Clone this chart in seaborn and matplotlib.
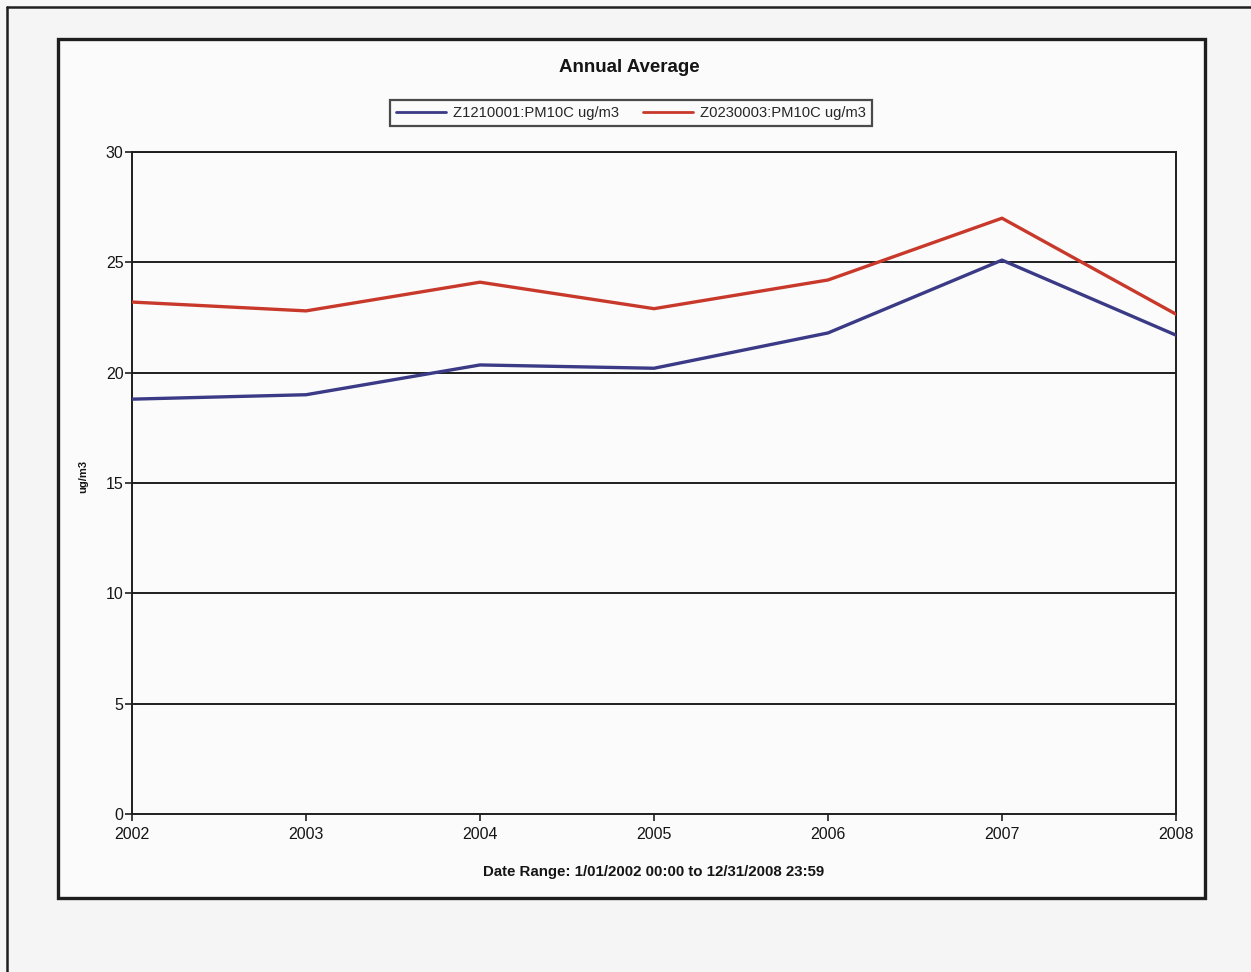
import matplotlib
matplotlib.use("Agg")
import matplotlib.pyplot as plt
import seaborn as sns
import pandas as pd
from matplotlib.patches import Rectangle
from matplotlib.lines import Line2D

years = [2002, 2003, 2004, 2005, 2006, 2007, 2008]
site_a_name = "Z1210001:PM10C ug/m3"
site_b_name = "Z0230003:PM10C ug/m3"
site_a = [18.8, 19.0, 20.35, 20.2, 21.8, 25.1, 21.7]
site_b = [23.2, 22.8, 24.1, 22.9, 24.2, 27.0, 22.65]
y_ticks = [0, 5, 10, 15, 20, 25, 30]

df = pd.DataFrame({
    "year": years * 2,
    "value": site_a + site_b,
    "series": [site_a_name] * len(years) + [site_b_name] * len(years),
})

sns.set_theme(style="white")
plt.rcParams["font.family"] = ["Liberation Sans", "DejaVu Sans"]

W, H = 1251, 972
fig = plt.figure(figsize=(W / 100, H / 100), dpi=100, facecolor="#f5f5f5")

# page border (top and left edges of the outer sheet)
fig.add_artist(Line2D([7 / W, 7 / W], [0, 1 - 7 / H], transform=fig.transFigure,
                      color="#1e1e1e", linewidth=1.8, zorder=-9))
fig.add_artist(Line2D([7 / W, 1], [1 - 7 / H, 1 - 7 / H], transform=fig.transFigure,
                      color="#1e1e1e", linewidth=1.8, zorder=-9))

# chart frame
frame = Rectangle((58 / W, 1 - 898 / H), (1205 - 58) / W, (898 - 39) / H,
                  transform=fig.transFigure, facecolor="#fbfbfb", edgecolor="#1e1e1e",
                  linewidth=2.4, zorder=-10)
fig.patches.append(frame)

ax = fig.add_axes([132 / W, 1 - 814 / H, (1176 - 132) / W, (814 - 152) / H])
ax.set_facecolor("none")
ax.set_zorder(5)

palette = {site_a_name: "#3a3a86", site_b_name: "#c8392b"}
sns.lineplot(data=df, x="year", y="value", hue="series", palette=palette,
             linewidth=2.4, ax=ax, legend=False, zorder=3)

ax.set_xlim(2002, 2008)
ax.set_ylim(0, 30)
ax.set_yticks(y_ticks)
ax.set_xticks(years)
ax.set_xticklabels([str(y) for y in years])
for v in y_ticks[1:]:
    ax.axhline(v, color="#1e1e1e", linewidth=1.4, zorder=1)

for side in ["left", "right", "bottom", "top"]:
    ax.spines[side].set_color("#1e1e1e")
    ax.spines[side].set_linewidth(1.4)
ax.tick_params(axis="both", which="major", direction="out", length=5, width=1.2,
               color="#1e1e1e", labelsize=11.5, labelcolor="#151515")
ax.tick_params(axis="y", left=True, pad=1)
ax.tick_params(axis="x", bottom=True, pad=4)

ax.set_xlabel("Date Range: 1/01/2002 00:00 to 12/31/2008 23:59", fontsize=10.8,
              fontweight="bold", labelpad=17, color="#151515")
ax.set_ylabel("ug/m3", fontsize=8, fontweight="bold", color="#151515")
ax.yaxis.set_label_coords(-44 / (1176 - 132), (814 - 476) / (814 - 152))

fig.text(629 / W, 1 - 68 / H, "Annual Average", ha="center", va="center",
         fontsize=13.5, fontweight="bold", color="#151515")

handles = [Line2D([], [], color=palette[site_a_name], linewidth=2),
           Line2D([], [], color=palette[site_b_name], linewidth=2)]
leg = fig.legend(handles, [site_a_name, site_b_name], loc="center",
                 bbox_to_anchor=(631 / W, 1 - 113 / H), ncol=2, frameon=True,
                 fontsize=10.6, fancybox=False, handlelength=3.4, columnspacing=1.6,
                 borderpad=0.4, handletextpad=0.5, borderaxespad=0)
leg.get_frame().set_edgecolor("#1e1e1e")
leg.get_frame().set_linewidth(1.6)
leg.get_frame().set_facecolor("#fbfbfb")

fig.savefig("out.png", dpi=100, facecolor=fig.get_facecolor())
